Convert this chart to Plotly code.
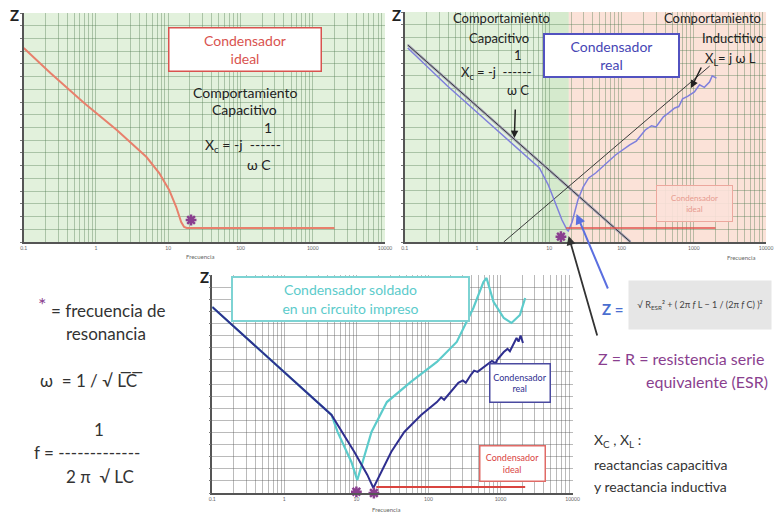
"""Impedancia de un condensador: ideal, real y soldado en circuito impreso."""

import plotly.graph_objects as go

W, H = 776, 515
FONT = "Lato"

# ---- data (frecuencia, Z en unidades de la rejilla) ----
tick_vals = [0.1, 1, 10, 100, 1000, 10000]
tick_text = ["0.1", "1", "10", "100", "1000", "10000"]

# panel 1: condensador ideal
ideal_f = [0.1, 0.234, 0.685, 1.94, 5.0, 7.5, 10.3, 12.9, 15.1, 16.6, 18.0, 2000]
ideal_z = [15.25, 13.28, 10.93, 8.80, 6.68, 5.42, 4.09, 2.75, 1.57, 1.18, 1.10, 1.10]
star1_f, star1_z = [20.7], [1.73]

# panel 2: condensador real
xc_f = [0.11, 133]
xc_z = [15.42, 0.0]
xl_f = [2.34, 1660]
xl_z = [0.0, 13.77]
real_f = [0.11, 0.39, 1.88, 7.3, 9.7, 12.5, 15.0, 17.7, 18.3, 20.7, 24.9, 29.4, 35.1,
          43.9, 82.6, 130, 160, 213, 260, 300, 380, 450, 545, 620, 700, 820, 1020,
          1200, 1400, 1650, 1800, 2060]
real_z = [15.18, 12.21, 8.77, 5.79, 4.46, 2.90, 1.72, 0.94, 0.86, 1.57, 3.29, 4.30, 5.01,
          5.40, 6.81, 7.6, 7.9, 8.77, 9.1, 9.0, 9.8, 10.1, 10.49, 10.6, 11.2, 11.4, 11.74,
          12.3, 12.1, 12.52, 13.0, 12.83]
ideal2_f = [17.1, 2000]
ideal2_z = [1.10, 1.10]
star2_f, star2_z = [14.5], [0.42]

# panel 3: condensador soldado en un circuito impreso
navy_f = [0.1, 4.52, 9.38, 14.2, 17.2, 22.0, 30.4, 46.2, 79.2, 131, 150, 165, 224, 260,
          300, 330, 386, 430, 480, 530, 647, 760, 850, 900, 1110, 1250, 1350, 1500,
          1670, 1780, 1900, 2050]
navy_z = [15.36, 6.44, 3.39, 1.49, 0.41, 1.73, 3.39, 5.04, 6.44, 7.51, 7.9, 7.7, 8.67,
          9.1, 9.3, 9.1, 9.74, 10.1, 10.0, 10.2, 10.57, 10.9, 10.7, 11.0, 11.64, 11.9,
          11.7, 12.3, 12.80, 12.5, 13.0, 12.39]
cyan_f = [0.1, 4.52, 5.48, 8.52, 10.3, 12.1, 16.2, 26.5, 57.0, 131, 247, 420, 579, 640,
          800, 1110, 1420, 1860, 2200]
cyan_z = [15.36, 6.44, 5.04, 2.56, 1.07, 2.56, 5.04, 7.51, 9.17, 10.82, 12.47, 15.28,
          17.42, 17.75, 15.78, 14.45, 14.04, 14.70, 16.10]
ideal3_f = [18.9, 2200]
ideal3_z = [0.50, 0.50]
star3_f = [10.0, 17.5]
star3_z = [0.1, 0.0]

# rejilla logarítmica: 1..9 en cada década, etiqueta solo en las décadas
grid_vals, grid_text = [], []
for v, t in zip(tick_vals, tick_text):
    for k in range(1, 10):
        if v * k > tick_vals[-1] * 1.01:
            break
        grid_vals.append(v * k)
        grid_text.append(t if k == 1 else "")


def px(x):
    return x / W


def py(y):
    return 1 - y / H


NAVY = "#2f2f8f"
CYAN = "#5ccbcb"
PURPLE = "#8a3f8f"
LILAC = "#7f7fdc"

fig = go.Figure()


def line(f, z, ax, color, width, name):
    fig.add_trace(go.Scatter(x=f, y=z, mode="lines", name=name,
                             line=dict(color=color, width=width),
                             xaxis="x" + ax, yaxis="y" + ax, hoverinfo="skip"))


def star(f, z, ax):
    fig.add_trace(go.Scatter(x=f, y=z, mode="markers", cliponaxis=False,
                             marker=dict(symbol="asterisk-open", size=9, color=PURPLE,
                                         line=dict(color=PURPLE, width=2.5)),
                             xaxis="x" + ax, yaxis="y" + ax, hoverinfo="skip"))


# panel 1
line(ideal_f, ideal_z, "", "#e8806c", 2, "ideal")
star(star1_f, star1_z, "")
# panel 2
line(xc_f, xc_z, "2", "#a4a4b8", 2.6, "Xc halo")
line(xc_f, xc_z, "2", "#3a3a3a", 1, "Xc")
line(xl_f, xl_z, "2", "#3a3a3a", 1, "XL")
line(real_f, real_z, "2", LILAC, 1.5, "real")
line(ideal2_f, ideal2_z, "2", "#e2554f", 1.5, "ideal")
star(star2_f, star2_z, "2")
# panel 3
line(cyan_f, cyan_z, "3", CYAN, 2.2, "soldado")
line(navy_f, navy_z, "3", NAVY, 2, "real")
line(ideal3_f, ideal3_z, "3", "#d9443f", 2, "ideal")
star(star3_f, star3_z, "3")


def xaxis(x0, x1, anchor, grid):
    return dict(type="log", range=[-1, 4], domain=[px(x0), px(x1)], anchor=anchor,
                tickmode="array", tickvals=grid_vals, ticktext=grid_text,
                tickfont=dict(size=5, color="#666", family=FONT),
                ticks="", showline=True, linecolor="#555", linewidth=1.5,
                showgrid=True, gridcolor=grid, gridwidth=1,
                zeroline=False, fixedrange=True)


def yaxis(y0, y1, anchor, grid):
    return dict(range=[0, 18], domain=[py(y1), py(y0)], anchor=anchor, dtick=1,
                showticklabels=False, ticks="outside", ticklen=2, tickcolor="#777",
                showline=True, linecolor="#555", linewidth=1.5,
                showgrid=True, gridcolor=grid, gridwidth=1,
                zeroline=False, fixedrange=True)


GRID_G = "rgba(80,120,80,0.38)"
GRID_W = "rgba(90,90,90,0.42)"

shapes = [
    # fondos de los paneles superiores
    dict(type="rect", xref="x domain", yref="y domain", x0=0, x1=1, y0=0, y1=1,
         fillcolor="#e2f1dc", line_width=0, layer="below"),
    dict(type="rect", xref="x2 domain", yref="y2 domain", x0=0, x1=0.454, y0=0, y1=1,
         fillcolor="#e2f1dc", line_width=0, layer="below"),
    dict(type="rect", xref="x2 domain", yref="y2 domain", x0=0.383, x1=0.454, y0=0, y1=1,
         fillcolor="#d5eacd", line_width=0, layer="below"),
    dict(type="rect", xref="x2 domain", yref="y2 domain", x0=0.454, x1=1, y0=0, y1=1,
         fillcolor="#fbe2d8", line_width=0, layer="below"),
]

annotations = []


def note(text, x, y, size=12, color="#333", **kw):
    d = dict(text=text, x=px(x), y=py(y), xref="paper", yref="paper",
             showarrow=False, font=dict(size=size, color=color, family=FONT),
             xanchor="center", yanchor="middle")
    d.update(kw)
    annotations.append(d)


def box(text, x0, y0, x1, y1, size, color, border, bg="white", bw=1.5):
    note(text, (x0 + x1) / 2, (y0 + y1) / 2, size, color,
         width=x1 - x0 - 2 * bw - 4, height=y1 - y0 - 2 * bw - 4,
         bordercolor=border, borderwidth=bw, borderpad=2, bgcolor=bg, align="center")


def arrow(tip_x, tip_y, tail_x, tail_y, color="#222", width=1.5):
    annotations.append(dict(text="", x=px(tip_x), y=py(tip_y), xref="paper", yref="paper",
                            showarrow=True, ax=tail_x - tip_x, ay=tail_y - tip_y,
                            arrowhead=2, arrowsize=1, arrowwidth=width, arrowcolor=color))


# ejes "Z" y "Frecuencia"
note("<b>Z</b>", 12, 15, 15, "#222")
note("<b>Z</b>", 399, 15, 15, "#222")
note("<b>Z</b>", 204, 277, 15, "#222")
note("Frecuencia", 200, 256, 6, "#666")
note("Frecuencia", 748, 257, 6, "#666")
note("Frecuencia", 388, 509, 6, "#666")

# panel 1
box("Condensador<br>ideal", 168, 27, 322, 72, 14, "#d9534f", "#d9534f")
note("Comportamiento", 245, 92, 14, "#222")
note("Capacitivo", 245, 109, 14, "#222")
note("1", 268, 127, 14, "#222")
note("X<sub>c</sub> = -j  ------", 243, 145, 14, "#222")
note("ω C", 259, 164, 14, "#222")

# panel 2
box("Condensador<br>real", 548, 33, 685, 78, 14, "#4646b4", "#5252c0", bw=2)
box("Condensador<br>ideal", 662, 185, 739, 222, 8, "#e79a8f", "#eca79d",
    bg="rgba(252,226,218,0.9)", bw=1)
note("Comportamiento", 505, 18, 13, "#222")
note("Capacitivo", 502, 38, 13, "#222")
note("1", 522, 55, 13, "#222")
note("X<sub>c</sub> = -j  ------", 500, 73, 13, "#222")
note("ω C", 522, 90, 13, "#222")
note("Comportamiento", 719, 18, 13, "#222")
note("Inductitivo", 739, 38, 13, "#222")
note("X<sub>L</sub>= j ω L", 737, 59, 13, "#222")
arrow(518, 138, 519, 108)
arrow(697, 88, 708, 66)

# panel 3
box("Condensador soldado<br>en un circuito impreso", 233, 276, 472, 322, 14, CYAN, "#7dd3d3", bw=2)
box("Condensador<br>real", 493, 363, 555, 403, 9, NAVY, "#4a4aa0", bw=1.5)
box("Condensador<br>ideal", 483, 445, 550, 482, 9, "#d9443f", "#e06a66", bw=1.5)

# flechas hacia el mínimo del panel 2
arrow(573, 236, 602, 337, "#333", 1.8)
arrow(581, 214, 613, 290, "#5b6fe0", 2)

# fórmula de Z
note("<b>Z =</b>", 617, 309, 15, "#4a6fd0")
note("√ R<sub>ESR</sub>² + ( 2π <i>f</i> L − 1 / (2π <i>f</i> C) )²", 706, 305, 9, "#444",
     width=140, height=46, bgcolor="#e6e6e6", borderpad=1)

note("Z = R = resistencia serie", 687, 358, 16, PURPLE)
note("equivalente (ESR)", 713, 381, 16, PURPLE)
note("X<sub>C</sub> , X<sub>L</sub> :", 597, 440, 14, "#333", xanchor="left")
note("reactancias capacitiva", 597, 464, 14, "#333", xanchor="left")
note("y reactancia inductiva", 597, 486, 14, "#333", xanchor="left")

# texto de la izquierda
note("*", 40, 304, 20, PURPLE)
note("= frecuencia de", 47, 310, 17, "#333", xanchor="left")
note("resonancia", 62, 333, 17, "#333", xanchor="left")
note("ω  = 1 / √ L̅C̅", 35, 380, 17, "#333", xanchor="left")
note("1", 97, 429, 17, "#333")
note("f = -------------", 29, 452, 17, "#333", xanchor="left")
note("2 π  √ LC", 62, 476, 17, "#333", xanchor="left")

fig.update_layout(
    width=W, height=H,
    margin=dict(l=0, r=0, t=0, b=0),
    paper_bgcolor="white",
    plot_bgcolor="rgba(0,0,0,0)",
    showlegend=False,
    font=dict(family=FONT),
    xaxis=xaxis(21, 387, "y", GRID_G),
    yaxis=yaxis(13, 242, "x", GRID_G),
    xaxis2=xaxis(407, 773, "y2", GRID_G),
    yaxis2=yaxis(12, 242, "x2", GRID_G),
    xaxis3=xaxis(212, 577, "y3", GRID_W),
    yaxis3=yaxis(275, 493, "x3", GRID_W),
    shapes=shapes,
    annotations=annotations,
)

# the page's default body margin would push the figure 8px off the window
fig.write_html("out.html", config={"displayModeBar": False},
               post_script="document.body.style.margin = '0';")
